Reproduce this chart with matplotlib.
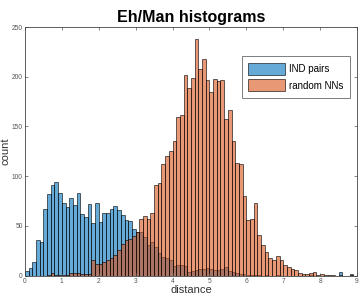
import numpy as np
import matplotlib
matplotlib.use("Agg")
import matplotlib.pyplot as plt

# histogram bins: 0 to 9 in steps of 0.1
bin_edges = np.round(np.arange(0, 9.01, 0.1), 2)

# IND pairs counts per bin
ind_counts = [5, 8, 14, 36, 34, 67, 82, 91, 94, 83,
              73, 69, 78, 71, 83, 62, 59, 72, 53, 73,
              54, 63, 63, 67, 70, 66, 61, 56, 55, 47,
              44, 44, 39, 31, 34, 29, 23, 19, 18, 16,
              10, 11, 11, 10, 4, 5, 6, 7, 7, 8,
              7, 6, 6, 7, 9, 5, 4, 3, 2, 2,
              1, 1, 1, 1, 0, 1, 0, 0, 1, 0,
              0, 0, 0, 0, 0, 0, 0, 1, 0, 0,
              0, 0, 0, 0, 0, 4, 0, 0, 2, 0]

# random NNs counts per bin
nn_counts = [0, 0, 0, 0, 0, 0, 1, 3, 1, 1,
             1, 1, 3, 3, 3, 2, 2, 2, 16, 12,
             12, 14, 16, 18, 21, 26, 32, 36, 37, 40,
             44, 57, 60, 57, 63, 91, 93, 112, 120, 125,
             135, 160, 162, 202, 189, 199, 238, 208, 218, 197,
             185, 198, 196, 197, 158, 167, 135, 113, 112, 80,
             56, 57, 73, 41, 31, 24, 18, 16, 20, 16,
             11, 9, 7, 6, 3, 2, 2, 3, 4, 1,
             2, 1, 1, 1, 0, 1, 0, 0, 1, 0]

labels = ["IND pairs", "random NNs"]
blue = (0.0, 0.447, 0.741)
orange = (0.85, 0.325, 0.098)

plt.rcParams['font.family'] = ['Liberation Sans', 'DejaVu Sans']

fig = plt.figure(figsize=(3.61, 2.98), dpi=100)
ax = fig.add_axes([0.069, 0.0755, 0.92, 0.8335])

left = bin_edges[:-1]
w = np.diff(bin_edges)
ax.bar(left, ind_counts, width=w, align='edge', color=blue, alpha=0.6,
       edgecolor='black', linewidth=0.7, label=labels[0])
ax.bar(left, nn_counts, width=w, align='edge', color=orange, alpha=0.6,
       edgecolor='black', linewidth=0.7, label=labels[1])

ax.set_xlim(0, 9)
ax.set_ylim(0, 250)
ax.set_xticks(range(0, 10))
ax.set_yticks(range(0, 251, 50))
ax.tick_params(direction='in', length=2.5, width=0.5, labelsize=4.8,
               labelcolor='#555555', color='#555555', top=True, right=True,
               pad=1.5)
for s in ax.spines.values():
    s.set_linewidth(0.6)
    s.set_color('#444444')

ax.set_title("Eh/Man histograms", fontsize=11.5, fontweight='bold', pad=4)
ax.set_xlabel("distance", fontsize=8, color='#333333', labelpad=0)
ax.set_ylabel("count", fontsize=8, color='#333333', labelpad=1)

leg = ax.legend(loc='upper right', bbox_to_anchor=(0.98, 0.882), fontsize=7,
                frameon=True, fancybox=False, edgecolor='#444444',
                handlelength=3.8, handleheight=1.5, borderpad=0.7,
                labelspacing=0.45, handletextpad=0.4, borderaxespad=0)
leg.get_frame().set_linewidth(0.6)

fig.savefig("out.png", dpi=100)
